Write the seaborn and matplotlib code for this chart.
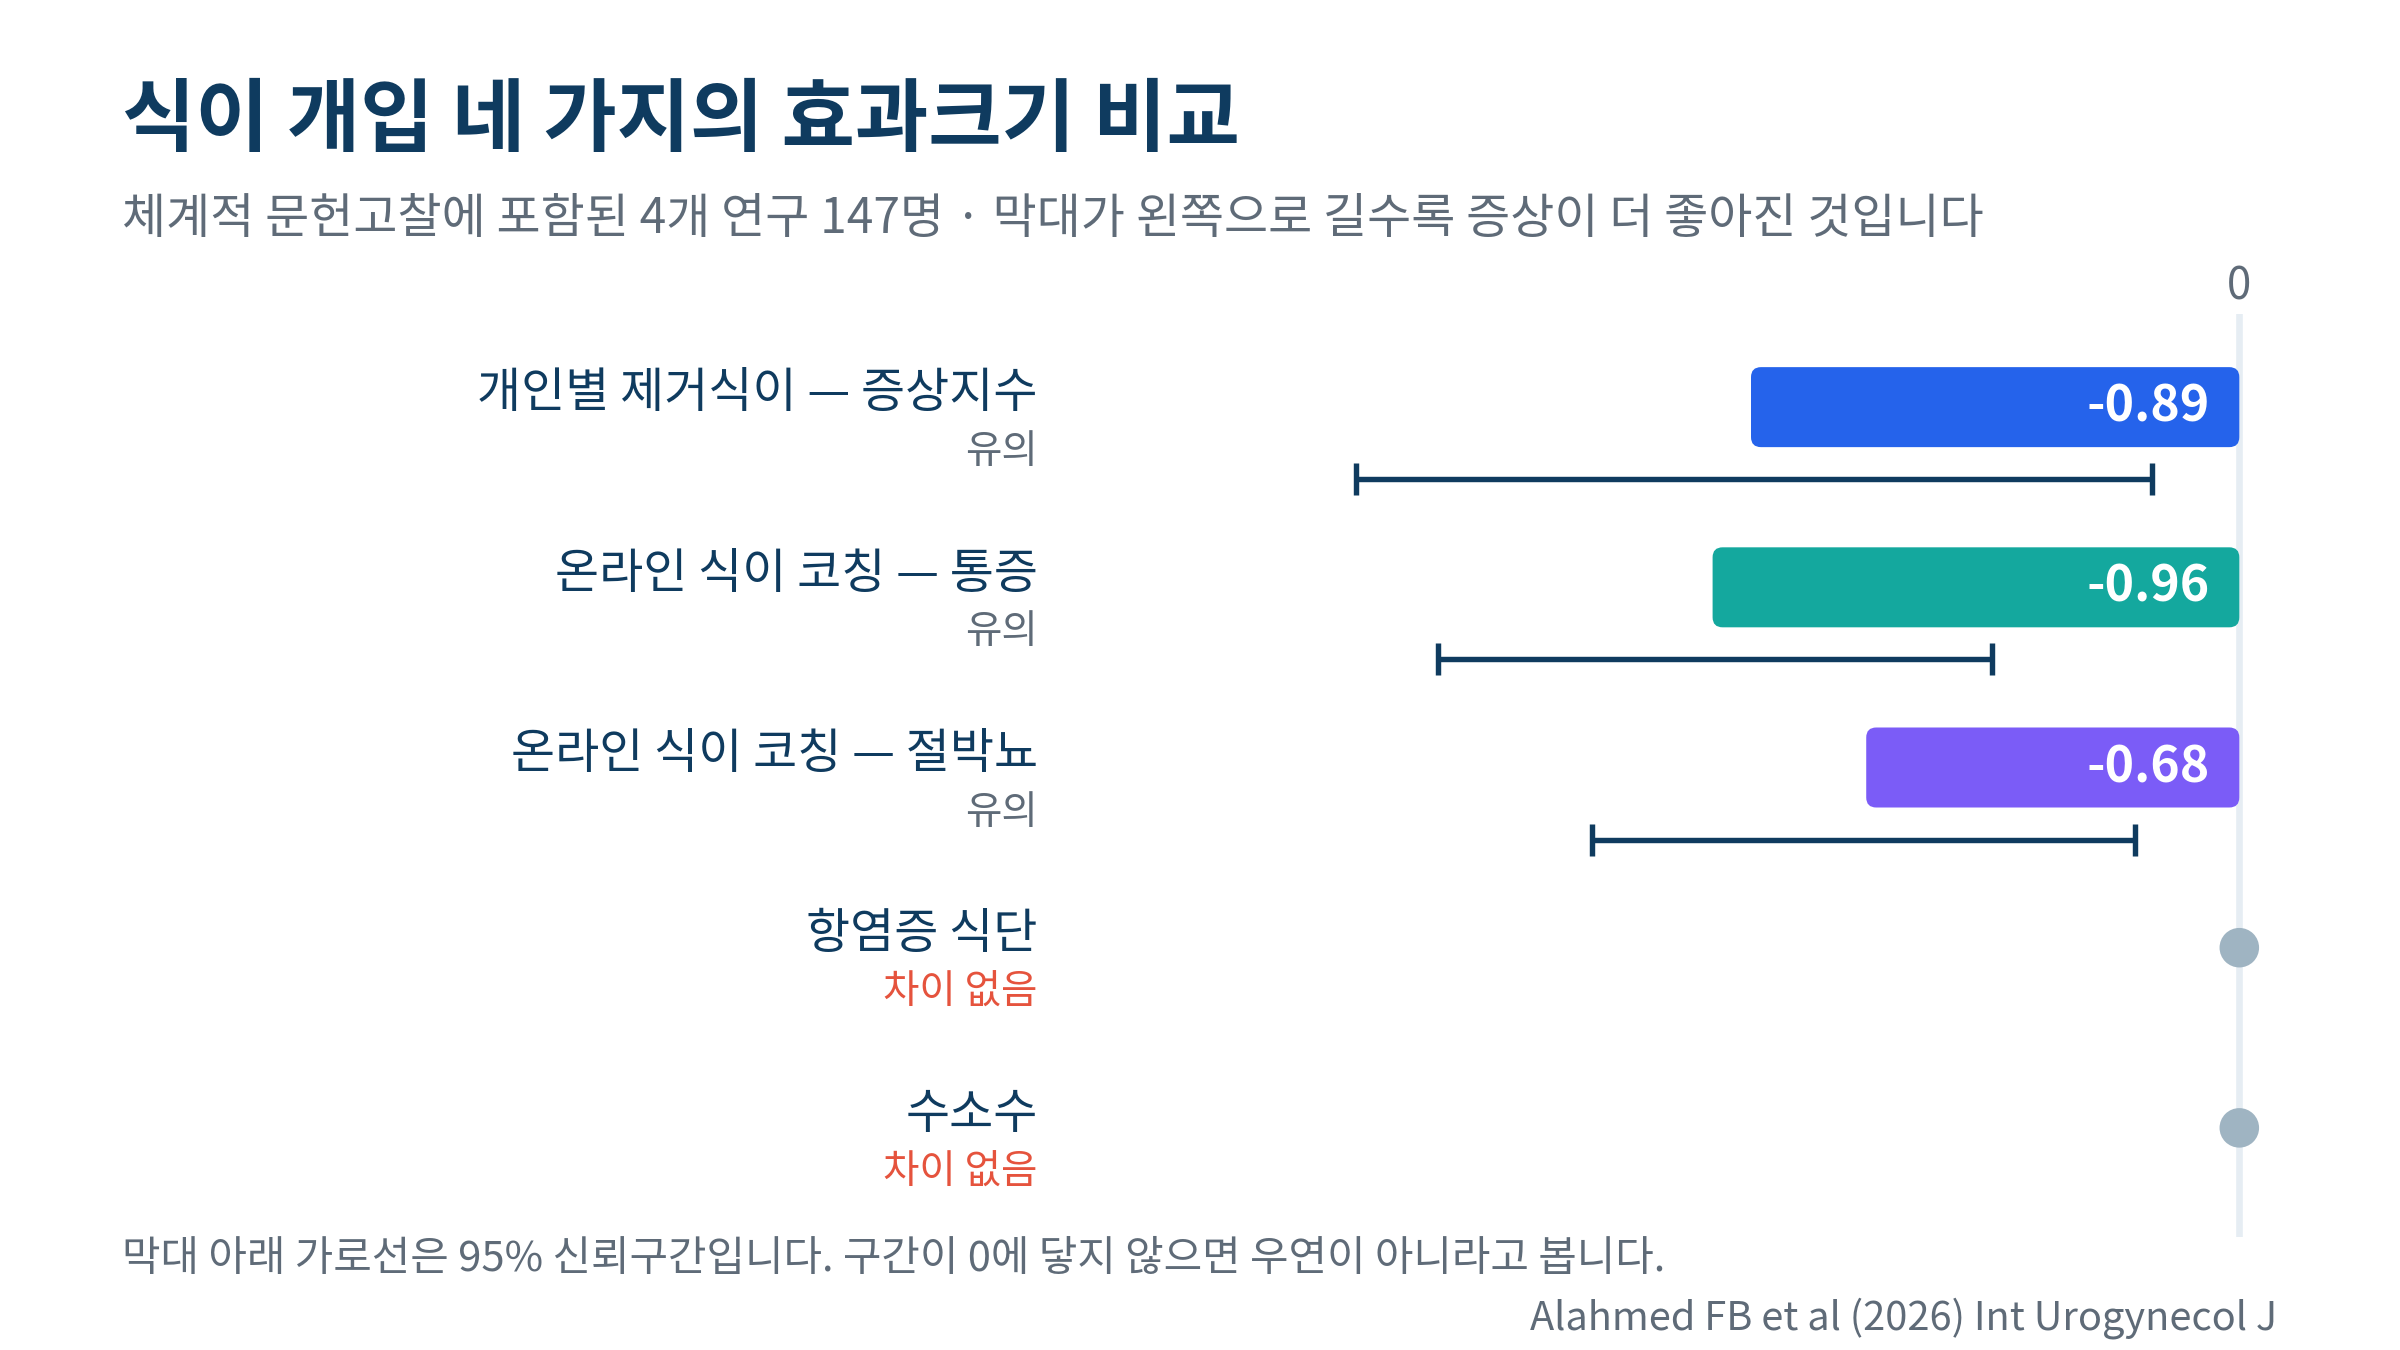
import matplotlib
matplotlib.use("Agg")
import matplotlib.pyplot as plt
import seaborn as sns
import pandas as pd
from matplotlib.patches import FancyBboxPatch
from matplotlib.transforms import blended_transform_factory

# ---- data ----
names = ["개인별 제거식이 — 증상지수", "온라인 식이 코칭 — 통증", "온라인 식이 코칭 — 절박뇨",
         "항염증 식단", "수소수"]
status = ["유의", "유의", "유의", "차이 없음", "차이 없음"]
effects = [-0.89, -0.96, -0.68, 0.0, 0.0]
ci_low = [-1.61, -1.46, -1.18]
ci_high = [-0.16, -0.45, -0.19]
significant = [True, True, True, False, False]
bar_colors = ["#2563eb", "#14a89e", "#7b5cf7", "#9fb4c2", "#9fb4c2"]

title = "식이 개입 네 가지의 효과크기 비교"
subtitle = "체계적 문헌고찰에 포함된 4개 연구 147명 · 막대가 왼쪽으로 길수록 증상이 더 좋아진 것입니다"
footnote = "막대 아래 가로선은 95% 신뢰구간입니다. 구간이 0에 닿지 않으면 우연이 아니라고 봅니다."
source = "Alahmed FB et al (2026) Int Urogynecol J"

NAVY = "#0f3b5f"
GREY = "#5f6b78"
RED = "#e5533d"

sns.set_theme(style="white")
plt.rcParams["font.family"] = ["Noto Sans CJK KR", "DejaVu Sans"]

W, H = 2400, 1350
fig = plt.figure(figsize=(16, 9), dpi=150)
fig.patch.set_facecolor("white")

# axes placed in pixel terms
ax_l, ax_r, ax_t, ax_b = 1300, 2300, 313.8, 1236.7
ax = fig.add_axes([ax_l / W, 1 - ax_b / H, (ax_r - ax_l) / W, (ax_b - ax_t) / H])

df = pd.DataFrame({"name": names, "effect": effects})
sns.barplot(data=df, x="effect", y="name", hue="name", order=names,
            palette=dict(zip(names, bar_colors)), orient="h", width=0.444,
            saturation=1, legend=False, ax=ax, zorder=2)

xlim = (-1.712, 0.1106)
ylim = (4.604, -0.518)
ax.set_xlim(*xlim)
ax.set_ylim(*ylim)

# rounded bars
px_per_x = (ax_r - ax_l) / (xlim[1] - xlim[0])
px_per_y = (ax_b - ax_t) / (ylim[0] - ylim[1])
rad_px = 10
rx = rad_px / px_per_x
asp = (rad_px / px_per_y) / rx
for p in list(ax.patches):
    x0, y0, w, h = p.get_x(), p.get_y(), p.get_width(), p.get_height()
    fc = p.get_facecolor()
    p.remove()
    if abs(w) < 1e-9:
        continue
    if w < 0:
        x0, w = x0 + w, -w
    if h < 0:
        y0, h = y0 + h, -h
    fb = FancyBboxPatch((x0, y0), w, h,
                        boxstyle=f"round,pad=0,rounding_size={rx}",
                        mutation_aspect=asp, fc=fc, ec="none", zorder=2)
    ax.add_patch(fb)

# zero line
ax.axvline(0, color="#e6edf3", lw=3.2, zorder=0)

# confidence intervals
sig_idx = [i for i, s in enumerate(significant) if s]
mids = [(lo + hi) / 2 for lo, hi in zip(ci_low, ci_high)]
halves = [(hi - lo) / 2 for lo, hi in zip(ci_low, ci_high)]
ax.errorbar(x=mids, y=[i + 0.40 for i in sig_idx], xerr=halves, fmt="none",
            ecolor=NAVY, elinewidth=2.6, capsize=7.5, capthick=2.6, zorder=3)

# value labels
for i in sig_idx:
    ax.text(-0.0534, i, f"{effects[i]:.2f}", ha="right", va="center",
            color="white", fontsize=24, fontweight="bold", zorder=4)

# non-significant points
ns_idx = [i for i, s in enumerate(significant) if not s]
sns.scatterplot(x=[effects[i] for i in ns_idx], y=ns_idx, s=360,
                color="#9fb4c2", edgecolor="none", zorder=4, ax=ax, legend=False)

# zero tick label
btr = blended_transform_factory(ax.transData, ax.transAxes)
ax.text(0, 1 + 27 / (ax_b - ax_t), "0", transform=btr, ha="center", va="center",
        fontsize=21, color=GREY)

# row labels
ltr = blended_transform_factory(ax.transAxes, ax.transData)
lx = (1037.7 - ax_l) / (ax_r - ax_l)
for i, (n, s) in enumerate(zip(names, status)):
    ax.text(lx, i - 0.075, n, transform=ltr, ha="right", va="center",
            fontsize=23, color=NAVY, clip_on=False)
    ax.text(lx, i + 0.25, s, transform=ltr, ha="right", va="center",
            fontsize=19, color=(GREY if significant[i] else RED), clip_on=False)

ax.axis("off")

# titles and notes
fig.text(122 / W, 1 - 122 / H, title, ha="left", va="center", fontsize=38.3,
         fontweight="bold", color=NAVY)
fig.text(122 / W, 1 - 219 / H, subtitle, ha="left", va="center", fontsize=23,
         color=GREY)
fig.text(122 / W, 1 - 1259 / H, footnote, ha="left", va="center", fontsize=20.1,
         color=GREY)
fig.text(2277 / W, 1 - 1318 / H, source, ha="right", va="center", fontsize=19.1,
         color=GREY)

fig.savefig("out.png", dpi=150, facecolor="white")
